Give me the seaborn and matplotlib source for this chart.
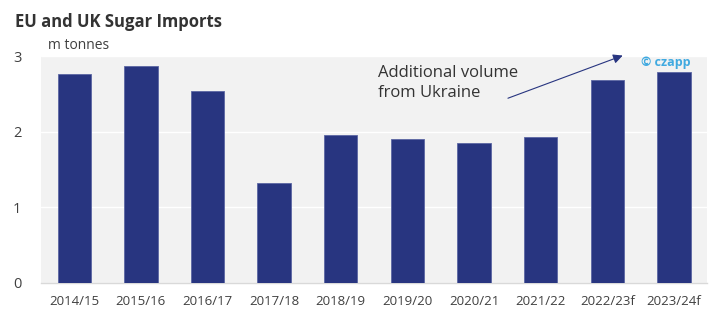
import matplotlib
matplotlib.use("Agg")
import matplotlib.pyplot as plt
import seaborn as sns
import pandas as pd
import numpy as np

seasons = ["2014/15", "2015/16", "2016/17", "2017/18", "2018/19",
           "2019/20", "2020/21", "2021/22", "2022/23f", "2023/24f"]
imports_mt = [2.76, 2.87, 2.54, 1.32, 1.95, 1.90, 1.85, 1.93, 2.68, 2.79]
y_ticks = [0, 1, 2, 3]

sns.set_theme(style="white")
plt.rcParams["font.family"] = ["Open Sans", "DejaVu Sans"]

df = pd.DataFrame({"season": seasons, "imports": imports_mt})

fig = plt.figure(figsize=(7.18, 3.32), dpi=100)
ax = fig.add_axes([0.057, 0.148, 0.928, 0.683])
ax.set_facecolor("#f2f2f2")

sns.barplot(data=df, x="season", y="imports", color="#283580",
            width=0.5, saturation=1, edgecolor="#5b66a3", linewidth=0.6,
            ax=ax, zorder=3)

ax.set_ylim(0, 3)
ax.set_xlim(-0.5, len(seasons) - 0.5)
ax.set_yticks(y_ticks)
ax.yaxis.grid(True, color="white", linewidth=1.0, zorder=0)
ax.set_axisbelow(True)
ax.set_xlabel("")
ax.set_ylabel("")

for s in ["top", "right", "left"]:
    ax.spines[s].set_visible(False)
ax.spines["bottom"].set_color("#d9d9d9")
ax.spines["bottom"].set_linewidth(1.0)

ax.tick_params(axis="y", length=0, pad=14, labelsize=10.5, labelcolor="#404040")
ax.tick_params(axis="x", length=0, pad=9, labelsize=9.5, labelcolor="#404040")

# category separators below the axis
ax.set_xticks(np.arange(len(seasons) + 1) - 0.5, minor=True)
ax.tick_params(axis="x", which="minor", length=5, color="#d9d9d9", width=1)

fig.text(0.021, 0.935, "EU and UK Sugar Imports", fontsize=12,
         fontweight="bold", color="#333333", va="center")
fig.text(0.067, 0.862, "m tonnes", fontsize=10, color="#404040", va="center")

ax.text(4.56, 2.88, "Additional volume\nfrom Ukraine", fontsize=12,
        color="#333333", va="top", ha="left", linespacing=1.3, zorder=5)
ax.annotate("", xy=(8.27, 3.02), xytext=(6.47, 2.43),
            arrowprops=dict(arrowstyle="-|>", color="#283580", lw=0.8,
                            mutation_scale=14),
            annotation_clip=False, zorder=5)
ax.text(9.25, 2.92, "© czapp", fontsize=9, color="#3fa9e0",
        fontweight="bold", ha="right", va="center", zorder=5)

fig.savefig("out.png", dpi=100)
